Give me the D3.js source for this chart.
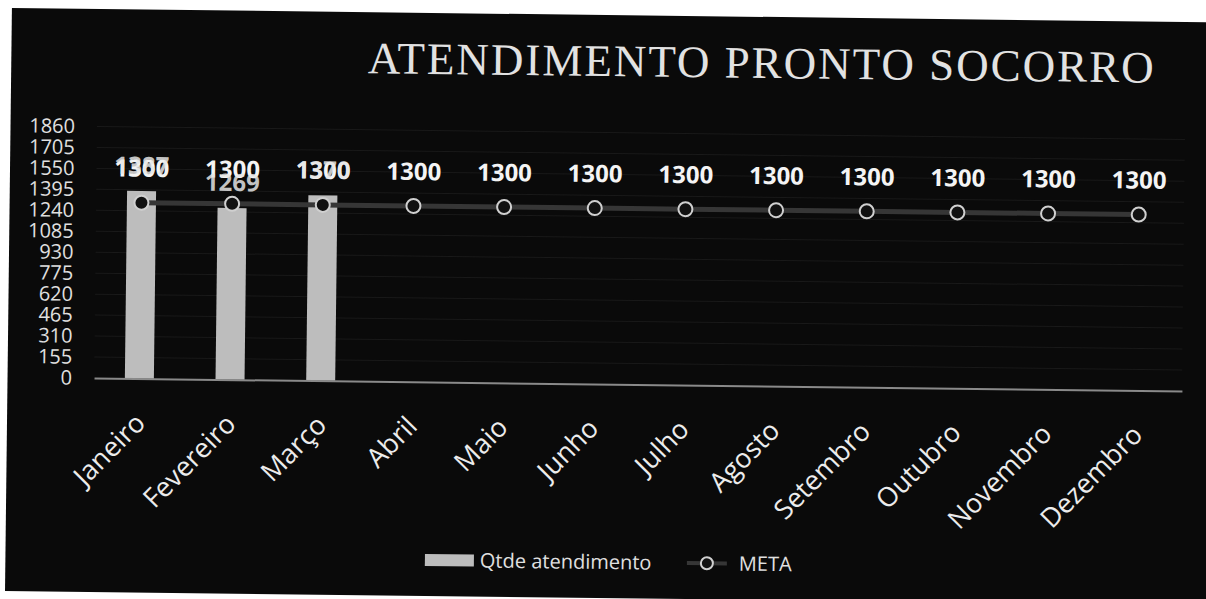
<!DOCTYPE html>
<html>
<head>
<meta charset="utf-8">
<script src="https://cdn.jsdelivr.net/npm/d3@7"></script>
<style>
  html, body { margin: 0; padding: 0; background: #fff; }
  svg { display: block; }
</style>
</head>
<body>
<div class="chart"></div>
<script>
const months = ['Janeiro', 'Fevereiro', 'Março', 'Abril', 'Maio', 'Junho', 'Julho', 'Agosto', 'Setembro', 'Outubro', 'Novembro', 'Dezembro'];
const qtde = [1387, 1269, 1370, null, null, null, null, null, null, null, null, null];
const meta = [1300, 1300, 1300, 1300, 1300, 1300, 1300, 1300, 1300, 1300, 1300, 1300];
const yTicks = [0, 155, 310, 465, 620, 775, 930, 1085, 1240, 1395, 1550, 1705, 1860];

const w = 1206;
const h = 599;
const plotLeft = 95, plotRight = 1183, plotTop = 132.5, plotBottom = 384;

const svg = d3.select('div.chart')
  .append('svg')
  .attr('width', w)
  .attr('height', h);

// the reference is a slightly tilted photo of the chart
const g = svg.append('g').attr('transform', 'rotate(0.68, 603, 300)');

g.append('rect')
  .attr('x', 8.5).attr('y', 15)
  .attr('width', 1230).attr('height', 583)
  .attr('fill', '#0a0a0a');

const xScale = d3.scaleBand()
  .domain(months)
  .range([plotLeft, plotRight]);

const yScale = d3.scaleLinear()
  .domain([0, 1860])
  .range([plotBottom, plotTop]);

// faint gridlines
g.append('g')
  .selectAll('line')
  .data(yTicks.slice(1))
  .enter()
  .append('line')
  .attr('x1', plotLeft).attr('x2', plotRight)
  .attr('y1', d => yScale(d)).attr('y2', d => yScale(d))
  .attr('stroke', '#191919')
  .attr('stroke-width', 1);

// title
g.append('text')
  .attr('x', 759).attr('y', 76)
  .attr('text-anchor', 'middle')
  .attr('fill', '#e2e2e2')
  .attr('font-family', '"Liberation Serif", serif')
  .attr('font-size', 45)
  .attr('letter-spacing', 2)
  .text('ATENDIMENTO PRONTO SOCORRO');

// y axis
const yAxis = d3.axisLeft(yScale).tickValues(yTicks).tickFormat(d3.format('d')).tickSize(0).tickPadding(0);
const ya = g.append('g')
  .attr('transform', 'translate(73,0)')
  .call(yAxis);
ya.select('.domain').remove();
ya.selectAll('text')
  .attr('fill', '#e0e0e0')
  .attr('font-family', '"Open Sans", sans-serif')
  .attr('font-size', 20);

const barData = qtde.map((v, i) => ({m: months[i], v: v})).filter(d => d.v != null);

// bars
g.selectAll('rect.bar')
  .data(barData)
  .enter()
  .append('rect')
  .attr('class', 'bar')
  .attr('fill', '#bdbdbd')
  .attr('x', d => xScale(d.m) + xScale.bandwidth() * 0.34)
  .attr('width', xScale.bandwidth() * 0.32)
  .attr('y', d => yScale(d.v))
  .attr('height', d => plotBottom - yScale(d.v));

// x axis
const xAxis = d3.axisBottom(xScale).tickSize(0).tickPadding(0);
const xa = g.append('g')
  .attr('transform', 'translate(0,' + plotBottom + ')')
  .call(xAxis);
xa.select('.domain').attr('stroke', '#8a8a8a').attr('stroke-width', 2);
xa.selectAll('text')
  .attr('fill', '#ececec')
  .attr('font-family', '"Open Sans", sans-serif')
  .attr('font-size', 27)
  .attr('text-anchor', 'end')
  .attr('dy', 0)
  .attr('transform', 'translate(8,46) rotate(-46)');

// meta line
const cx = (d, i) => xScale(months[i]) + xScale.bandwidth() / 2;
const line = d3.line()
  .x(cx)
  .y(d => yScale(d));
g.append('path')
  .datum(meta)
  .attr('d', line)
  .attr('fill', 'none')
  .attr('stroke', '#363636')
  .attr('stroke-width', 5);

g.selectAll('circle.meta')
  .data(meta)
  .enter()
  .append('circle')
  .attr('class', 'meta')
  .attr('cx', cx)
  .attr('cy', d => yScale(d))
  .attr('r', 7)
  .attr('fill', '#111')
  .attr('stroke', '#d0d0d0')
  .attr('stroke-width', 2);

// data labels
g.selectAll('text.mlab')
  .data(meta)
  .enter()
  .append('text')
  .attr('class', 'mlab')
  .attr('x', cx)
  .attr('y', d => yScale(d) - 26)
  .attr('text-anchor', 'middle')
  .attr('fill', '#f4f4f4')
  .attr('font-family', '"Open Sans", sans-serif')
  .attr('font-weight', 'bold')
  .attr('font-size', 24)
  .text(d => d);

g.selectAll('text.blab')
  .data(barData)
  .enter()
  .append('text')
  .attr('class', 'blab')
  .attr('x', d => xScale(d.m) + xScale.bandwidth() / 2)
  .attr('y', d => yScale(d.v) - 17)
  .attr('text-anchor', 'middle')
  .attr('fill', '#e6e6e6')
  .attr('fill-opacity', 0.85)
  .attr('font-family', '"Open Sans", sans-serif')
  .attr('font-weight', 'bold')
  .attr('font-size', 24)
  .text(d => d.v);

// legend
const lg = g.append('g').attr('transform', 'translate(0,562)');
lg.append('rect')
  .attr('x', 428).attr('y', -6)
  .attr('width', 49).attr('height', 12)
  .attr('fill', '#bdbdbd');
lg.append('text')
  .attr('x', 483).attr('y', 7)
  .attr('fill', '#e0e0e0')
  .attr('font-family', '"Open Sans", sans-serif')
  .attr('font-size', 20)
  .text('Qtde atendimento');
lg.append('line')
  .attr('x1', 690).attr('x2', 730)
  .attr('y1', 0).attr('y2', 0)
  .attr('stroke', '#363636')
  .attr('stroke-width', 4);
lg.append('circle')
  .attr('cx', 710).attr('cy', 0).attr('r', 6)
  .attr('fill', '#111')
  .attr('stroke', '#d0d0d0')
  .attr('stroke-width', 2);
lg.append('text')
  .attr('x', 742).attr('y', 7)
  .attr('fill', '#e0e0e0')
  .attr('font-family', '"Open Sans", sans-serif')
  .attr('font-size', 20)
  .text('META');
</script>
</body>
</html>
